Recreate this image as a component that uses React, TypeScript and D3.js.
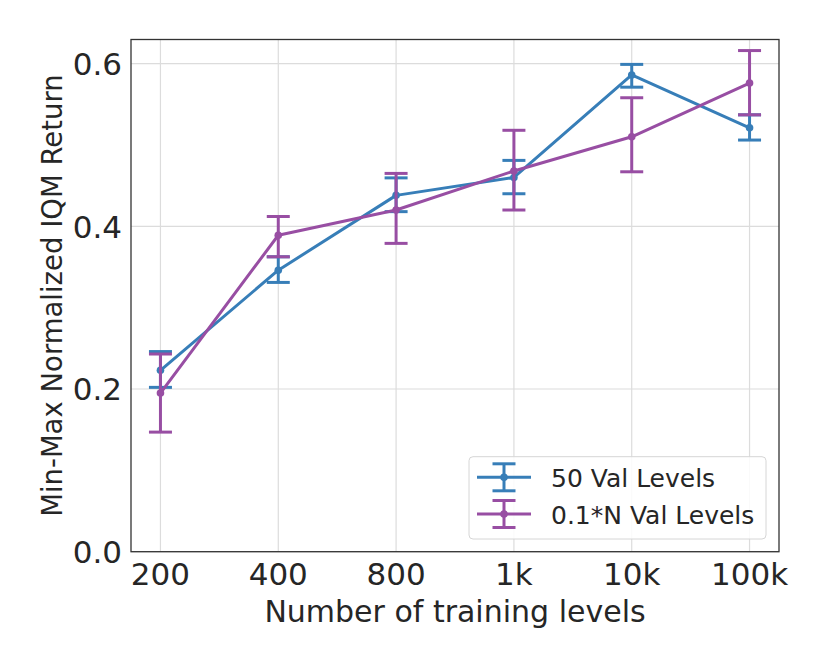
import { scaleLinear } from "d3";

const categories = ["200", "400", "800", "1k", "10k", "100k"];
const yTickValues = [0, 0.2, 0.4, 0.6];

const blueMean = [0.223, 0.346, 0.438, 0.46, 0.586, 0.521];
const blueLow = [0.202, 0.331, 0.418, 0.44, 0.571, 0.506];
const blueHigh = [0.246, 0.3625, 0.4595, 0.481, 0.599, 0.537];

const purpleMean = [0.195, 0.389, 0.42, 0.468, 0.51, 0.576];
const purpleLow = [0.147, 0.3625, 0.379, 0.42, 0.467, 0.537];
const purpleHigh = [0.243, 0.412, 0.465, 0.518, 0.558, 0.616];

const seriesList = [
  { name: "50 Val Levels", color: "#377eb8", mean: blueMean, low: blueLow, high: blueHigh },
  { name: "0.1*N Val Levels", color: "#984ea3", mean: purpleMean, low: purpleLow, high: purpleHigh },
];

const WIDTH = 830;
const HEIGHT = 664;
const PLOT = { left: 131, right: 779, top: 39.5, bottom: 551.7 };
const FONT = "'DejaVu Sans', sans-serif";
const TEXT = "#262626";
const CAP = 11.5;

export default function App() {
  const x = scaleLinear().domain([-0.25, 5.25]).range([PLOT.left, PLOT.right]);
  const y = scaleLinear().domain([0, 0.6296]).range([PLOT.bottom, PLOT.top]);

  return (
    <svg
      width={WIDTH}
      height={HEIGHT}
      style={{ position: "absolute", left: 0, top: 0, background: "white" }}
      fontFamily={FONT}
    >
      {/* grid */}
      {categories.map((c, i) => (
        <line key={c} x1={x(i)} x2={x(i)} y1={PLOT.top} y2={PLOT.bottom} stroke="#dcdcdc" strokeWidth={1.2} />
      ))}
      {yTickValues.map((t) => (
        <line key={t} x1={PLOT.left} x2={PLOT.right} y1={y(t)} y2={y(t)} stroke="#dcdcdc" strokeWidth={1.2} />
      ))}

      {/* series */}
      {seriesList.map((s) => (
        <g key={s.name}>
          <polyline
            points={s.mean.map((v, i) => `${x(i)},${y(v)}`).join(" ")}
            fill="none"
            stroke={s.color}
            strokeWidth={3}
            strokeLinejoin="round"
          />
          {s.mean.map((v, i) => (
            <g key={i}>
              <line x1={x(i)} x2={x(i)} y1={y(s.low[i])} y2={y(s.high[i])} stroke={s.color} strokeWidth={3} />
              <line x1={x(i) - CAP} x2={x(i) + CAP} y1={y(s.low[i])} y2={y(s.low[i])} stroke={s.color} strokeWidth={3} />
              <line x1={x(i) - CAP} x2={x(i) + CAP} y1={y(s.high[i])} y2={y(s.high[i])} stroke={s.color} strokeWidth={3} />
              <circle cx={x(i)} cy={y(v)} r={3.8} fill={s.color} />
            </g>
          ))}
        </g>
      ))}

      {/* frame */}
      <rect
        x={PLOT.left}
        y={PLOT.top}
        width={PLOT.right - PLOT.left}
        height={PLOT.bottom - PLOT.top}
        fill="none"
        stroke="#333333"
        strokeWidth={1.3}
      />

      {/* ticks */}
      {yTickValues.map((t) => (
        <text key={t} x={PLOT.left - 9} y={y(t) + 11.5} textAnchor="end" fontSize={31} fill={TEXT}>
          {t.toFixed(1)}
        </text>
      ))}
      {categories.map((c, i) => (
        <text key={c} x={x(i)} y={584.5} textAnchor="middle" fontSize={31} fill={TEXT}>
          {c}
        </text>
      ))}

      {/* axis labels */}
      <text x={(PLOT.left + PLOT.right) / 2} y={622} textAnchor="middle" fontSize={30} fill={TEXT}>
        Number of training levels
      </text>
      <text
        transform={`translate(62,${(PLOT.top + PLOT.bottom) / 2}) rotate(-90)`}
        textAnchor="middle"
        fontSize={27.5}
        fill={TEXT}
      >
        Min-Max Normalized IQM Return
      </text>

      {/* legend */}
      <rect x={469} y={456.7} width={297} height={82.3} rx={4} fill="white" fillOpacity={0.85} stroke="#d6d6d6" strokeWidth={1} />
      {seriesList.map((s, k) => {
        const cy = 477.3 + k * 36.7;
        return (
          <g key={s.name}>
            <line x1={477} x2={531} y1={cy} y2={cy} stroke={s.color} strokeWidth={3} />
            <line x1={504} x2={504} y1={cy - 13.5} y2={cy + 13.5} stroke={s.color} strokeWidth={3} />
            <line x1={504 - CAP} x2={504 + CAP} y1={cy - 13.5} y2={cy - 13.5} stroke={s.color} strokeWidth={3} />
            <line x1={504 - CAP} x2={504 + CAP} y1={cy + 13.5} y2={cy + 13.5} stroke={s.color} strokeWidth={3} />
            <circle cx={504} cy={cy} r={3.8} fill={s.color} />
            <text x={551} y={cy + 9.5} fontSize={25} fill={TEXT}>
              {s.name}
            </text>
          </g>
        );
      })}
    </svg>
  );
}
